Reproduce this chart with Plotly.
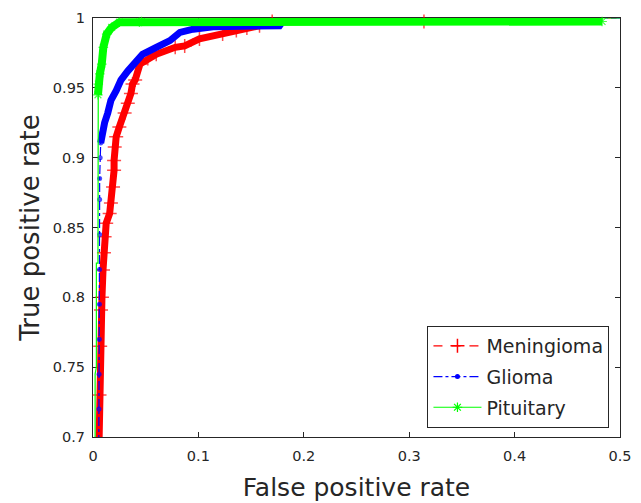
import plotly.graph_objects as go

# ---- data ----
men_fpr = [0.0057, 0.0062, 0.0068, 0.0076, 0.0085, 0.0095, 0.0104, 0.0110, 0.0125, 0.0158,
           0.0170, 0.0190, 0.0200, 0.0200, 0.0206, 0.0220, 0.0250, 0.0300, 0.0330, 0.0360,
           0.0375, 0.0400, 0.0446, 0.0520, 0.0600, 0.0780, 0.0870, 0.1010, 0.1230, 0.1360,
           0.1460, 0.1580, 0.1700, 0.3140, 0.3140, 0.5000]
men_tpr = [0.695, 0.730, 0.765, 0.791, 0.800, 0.8196, 0.832, 0.8434, 0.853, 0.860,
           0.8675, 0.879, 0.891, 0.898, 0.9077, 0.915, 0.922, 0.932, 0.939, 0.946,
           0.9527, 0.9556, 0.967, 0.971, 0.974, 0.979, 0.980, 0.985, 0.9885, 0.991,
           0.9928, 0.9945, 0.9975, 0.9975, 1.000, 1.000]

gli_fpr = [0.0055, 0.0057, 0.0058, 0.0060, 0.0061, 0.0062, 0.0063, 0.0063, 0.0063, 0.0068,
           0.0073, 0.0085, 0.0110, 0.0140, 0.0170, 0.0220, 0.0265, 0.0330, 0.0380, 0.0470,
           0.0600, 0.0730, 0.0825, 0.0950, 0.1140, 0.1770, 0.1800, 0.3170, 0.3170, 0.5000]
gli_tpr = [0.695, 0.720, 0.745, 0.770, 0.795, 0.820, 0.845, 0.870, 0.885, 0.900,
           0.9105, 0.918, 0.925, 0.932, 0.941, 0.948, 0.9556, 0.962, 0.967, 0.974,
           0.979, 0.9838, 0.9897, 0.992, 0.9938, 0.9945, 0.9975, 0.9975, 1.000, 1.000]

pit_fpr = [0.0020, 0.0020, 0.0032, 0.0032, 0.0047, 0.0047, 0.0050, 0.0065, 0.0083, 0.0098,
           0.0130, 0.0177, 0.0250, 0.0440, 0.0460, 0.4830, 0.4830, 0.5000]
pit_tpr = [0.695, 0.745, 0.750, 0.8245, 0.8245, 0.945, 0.9527, 0.960, 0.967, 0.979,
           0.9885, 0.9933, 0.997, 0.997, 0.9975, 0.9975, 1.000, 1.000]

series_names = ["Meningioma", "Glioma", "Pituitary"]

x_ticks = [0, 0.1, 0.2, 0.3, 0.4, 0.5]
x_tick_labels = ["0", "0.1", "0.2", "0.3", "0.4", "0.5"]
y_ticks = [0.7, 0.75, 0.8, 0.85, 0.9, 0.95, 1.0]
y_tick_labels = ["0.7", "0.75", "0.8", "0.85", "0.9", "0.95", "1"]

RED, BLUE, GREEN = "#ff0000", "#0000ff", "#00ff00"
FONT = "DejaVu Sans"
INK = "#262626"

fig = go.Figure()


def band(fpr, tpr, keep, color, width):
    xs = [f for f, t in zip(fpr, tpr) if keep(f, t)]
    ys = [t for f, t in zip(fpr, tpr) if keep(f, t)]
    fig.add_trace(go.Scatter(x=xs, y=ys, mode="lines", showlegend=False,
                             hoverinfo="skip", line=dict(color=color, width=width)))


styles = [
    dict(color=RED, dash="dash", symbol="cross-thin", size=10, mlw=1.5),
    dict(color=BLUE, dash="dashdot", symbol="circle", size=5, mlw=0),
    dict(color=GREEN, dash="solid", symbol="asterisk", size=8, mlw=1.2),
]
data = [(men_fpr, men_tpr), (gli_fpr, gli_tpr), (pit_fpr, pit_tpr)]
band_rules = [
    (lambda f, t: t < 1.0 and f <= 0.18, 7),
    (lambda f, t: 0.91 <= t < 1.0, 7),
    (lambda f, t: 0.945 <= t < 1.0, 8),
]
marker_rules = [
    lambda t: t < 1.0,
    lambda t: t < 1.0,
    lambda t: 0.945 <= t < 1.0,
]

for name, (fpr, tpr), st, (keep, bw), mk in zip(series_names, data, styles, band_rules, marker_rules):
    band(fpr, tpr, keep, st["color"], bw)
    fig.add_trace(go.Scatter(
        x=fpr, y=tpr, mode="lines+markers", showlegend=False, name=name,
        line=dict(color=st["color"], width=1.2, dash=st["dash"]),
        marker=dict(symbol=st["symbol"], color=st["color"],
                    size=[st["size"] if mk(t) else 0 for t in tpr],
                    line=dict(color=st["color"], width=st["mlw"])),
        cliponaxis=False))

# legend entries
for name, st in zip(series_names, styles):
    fig.add_trace(go.Scatter(
        x=[None], y=[None], mode="lines+markers", name=name, legendgroup=name,
        line=dict(color=st["color"], width=1.2, dash=st["dash"]),
        marker=dict(symbol=st["symbol"], color=st["color"], size=st["size"],
                    line=dict(color=st["color"], width=st["mlw"]))))

axis_common = dict(
    showline=True, linecolor=INK, linewidth=1, mirror="ticks",
    ticks="inside", ticklen=5, tickcolor=INK, tickwidth=1,
    showgrid=False, zeroline=False, layer="below traces", automargin=False,
    tickfont=dict(family=FONT, size=14.5, color=INK),
)

fig.update_layout(
    width=641, height=503,
    margin=dict(l=93, r=21, t=18, b=66),
    paper_bgcolor="white", plot_bgcolor="white",
    font=dict(family=FONT, color=INK),
    xaxis=dict(range=[0, 0.5], tickvals=x_ticks, ticktext=x_tick_labels,
               title=dict(text="False positive rate", font=dict(family=FONT, size=25, color=INK),
                          standoff=15),
               ticklabelstandoff=6, **axis_common),
    yaxis=dict(range=[0.7, 1.0], tickvals=y_ticks, ticktext=y_tick_labels,
               title=dict(text="True positive rate", font=dict(family=FONT, size=26, color=INK),
                          standoff=5),
               ticklabelstandoff=4, **axis_common),
    legend=dict(x=0.980, y=0.0215, xanchor="right", yanchor="bottom",
                bgcolor="white", bordercolor=INK, borderwidth=1,
                font=dict(family=FONT, size=19, color=INK),
                itemwidth=48, traceorder="grouped", tracegroupgap=3),
    showlegend=True,
)

fig.write_html("out.html", config={"displayModeBar": False},
               post_script="document.body.style.margin='0px';")
